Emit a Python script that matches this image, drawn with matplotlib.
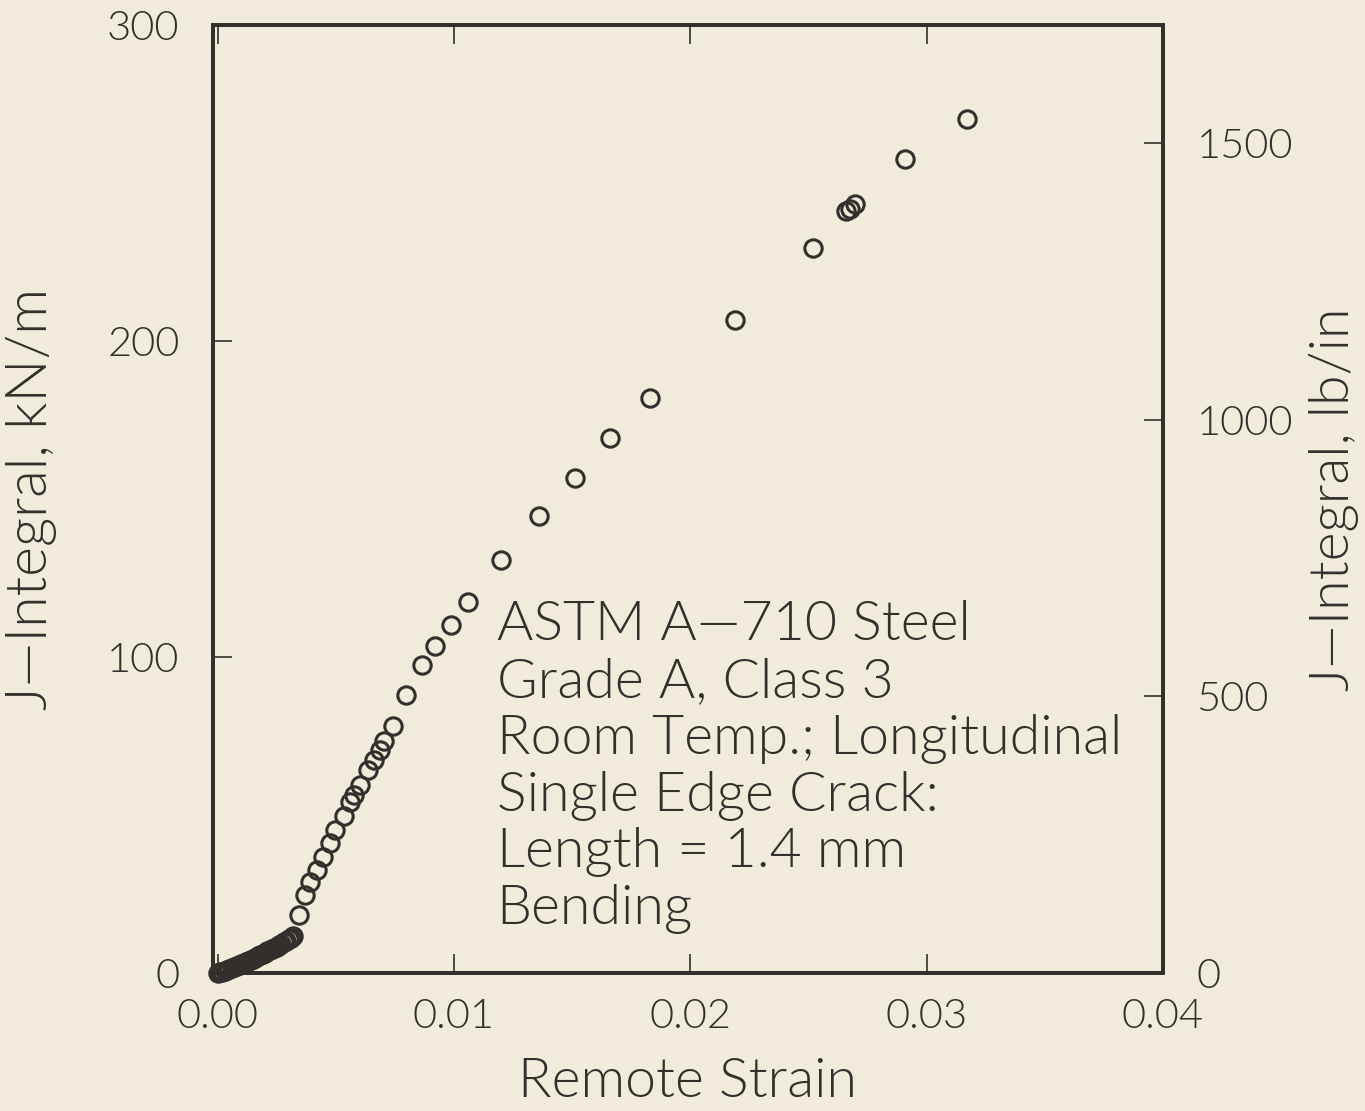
import matplotlib
matplotlib.use('Agg')
import matplotlib.pyplot as plt

# remote strain and J-integral (kN/m)
strain = [0.0000, 0.0001, 0.0002, 0.0003, 0.0004, 0.0005, 0.0006, 0.0007,
          0.0008, 0.0009, 0.0010, 0.0011, 0.0012, 0.0013, 0.0014, 0.0015,
          0.0016, 0.0017, 0.0018, 0.0019, 0.0020, 0.0021, 0.0022, 0.0023,
          0.0024, 0.0025, 0.0026, 0.0027, 0.0028, 0.0029, 0.0030, 0.0031,
          0.0032,
          0.00343, 0.00371, 0.00392, 0.00421, 0.00446, 0.00477, 0.00498,
          0.00533, 0.00561, 0.00578, 0.00603, 0.00638, 0.00660, 0.00685,
          0.00702, 0.00741, 0.00797, 0.00865, 0.00920, 0.00987, 0.01059,
          0.01198, 0.01359, 0.01511, 0.01662, 0.01831, 0.02190, 0.02519,
          0.02658, 0.02675, 0.02696, 0.02907, 0.03169]
j_kn = [0.0, 0.3, 0.5, 0.8, 1.1, 1.4, 1.7, 2.0,
        2.3, 2.6, 2.9, 3.2, 3.5, 3.8, 4.1, 4.5,
        4.9, 5.3, 5.7, 6.1, 6.5, 6.9, 7.2, 7.6,
        8.0, 8.4, 8.9, 9.4, 9.8, 10.3, 10.8, 11.3,
        11.8,
        18.5, 24.8, 29.0, 32.7, 36.9, 41.1, 45.3,
        49.6, 54.3, 56.4, 59.6, 64.3, 67.5, 70.7,
        73.5, 78.1, 88.0, 97.5, 103.5, 110.1, 117.4,
        130.7, 144.6, 156.6, 169.3, 182.0, 206.6, 229.4,
        241.1, 241.8, 243.4, 257.6, 270.3]

x_ticks = [0.00, 0.01, 0.02, 0.03, 0.04]
x_ticklabels = ['0.00', '0.01', '0.02', '0.03', '0.04']
y_ticks = [0, 100, 200, 300]
y2_ticks = [0, 500, 1000, 1500]
KN_TO_LBIN = 5.7101

notes = ['ASTM A\u2014710 Steel', 'Grade A, Class 3',
         'Room Temp.; Longitudinal', 'Single Edge Crack:',
         'Length = 1.4 mm', 'Bending']

bg = '#f1ebdc'
ink = '#332f2d'

plt.rcParams['font.family'] = ['Lato', 'DejaVu Sans']
plt.rcParams['font.weight'] = 300
plt.rcParams['axes.labelweight'] = 300

fig = plt.figure(figsize=(13.65, 11.11), dpi=100, facecolor=bg)
ax = fig.add_axes([0.156, 0.124, 0.696, 0.8535])
ax.set_facecolor(bg)

ax.plot(strain, j_kn, linestyle='none', marker='o', markersize=12.5,
        markerfacecolor='none', markeredgecolor=ink, markeredgewidth=2.2,
        clip_on=False)

ax.set_xlim(-0.0002, 0.04)
ax.set_ylim(0, 300)
ax.set_xticks(x_ticks)
ax.set_xticklabels(x_ticklabels)
ax.set_yticks(y_ticks)
ax.tick_params(direction='in', length=14, width=1.2, color=ink,
               labelsize=30, labelcolor=ink, top=True, pad=18)
ax.tick_params(axis='y', pad=24)
for s in ax.spines.values():
    s.set_linewidth(2.8)
    s.set_color(ink)

ax.set_xlabel('Remote Strain', fontsize=40, color=ink, labelpad=16)
ax.set_ylabel('J\u2014Integral, kN/m', fontsize=41, color=ink, labelpad=36)

ax2 = ax.twinx()
ax2.set_ylim(0, 300 * KN_TO_LBIN)
ax2.set_yticks(y2_ticks)
ax2.tick_params(direction='in', length=14, width=1.2, color=ink,
                labelsize=30, labelcolor=ink, pad=24)
for s in ax2.spines.values():
    s.set_linewidth(2.8)
    s.set_color(ink)
ax2.set_ylabel('J\u2014Integral, lb/in', fontsize=40, color=ink, labelpad=12)

ax.text(0.0118, 118, '\n'.join(notes), fontsize=40, color=ink,
        va='top', ha='left', linespacing=1.17)

fig.savefig('out.png', dpi=100, facecolor=bg)
